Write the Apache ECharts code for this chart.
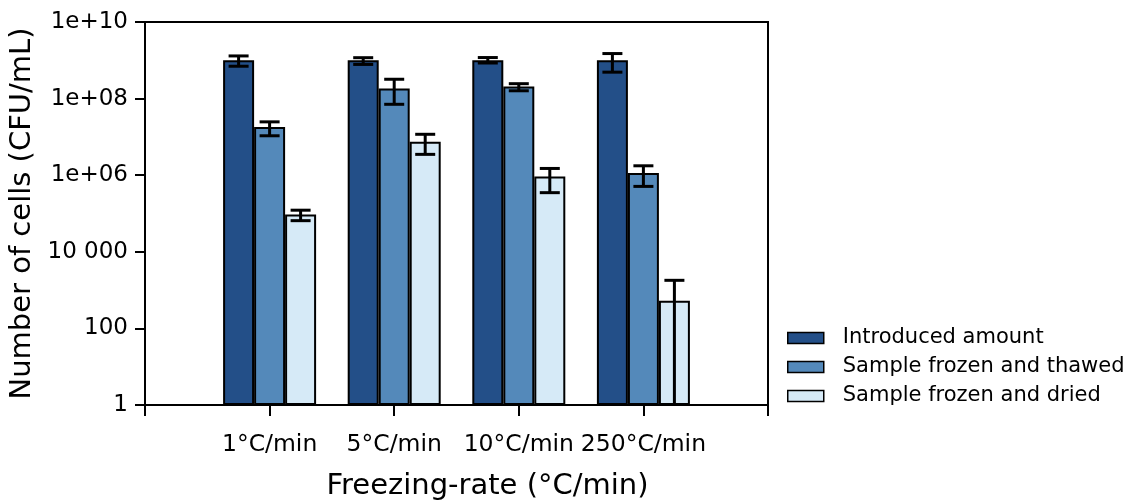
<!DOCTYPE html>
<html>
<head>
<meta charset="utf-8">
<script src="https://cdn.jsdelivr.net/npm/echarts@6/dist/echarts.min.js"></script>
<style>html,body{margin:0;padding:0;background:#fff}#c{width:1140px;height:500px}</style>
</head>
<body>
<div id="c"></div>
<script>
// ---- data ----
const categories = ['1°C/min', '5°C/min', '10°C/min', '250°C/min'];
const seriesNames = ['Introduced amount', 'Sample frozen and thawed', 'Sample frozen and dried'];
const introduced   = [1.0e9, 1.0e9, 1.0e9, 1.0e9];
const introducedLo = [7.0e8, 7.8e8, 8.5e8, 4.9e8];
const introducedHi = [1.3e9, 1.17e9, 1.18e9, 1.5e9];
const thawed   = [1.8e7, 1.83e8, 2.07e8, 1.15e6];
const thawedLo = [1.07e7, 7.1e7, 1.6e8, 5.1e5];
const thawedHi = [2.47e7, 3.2e8, 2.45e8, 1.76e6];
const dried   = [9.4e4, 7.5e6, 9.25e5, 524];
const driedLo = [6.5e4, 3.5e6, 3.5e5, 0.5];
const driedHi = [1.22e5, 1.17e7, 1.5e6, 1.8e3];
const yTickValues = [1, 100, 1e4, 1e6, 1e8, 1e10];
const yTickLabels = ['1', '100', '10 000', '1e+06', '1e+08', '1e+10'];
const colors = ['#234F88', '#5489BA', '#D6EAF7'];

// padded category axis: an empty slot on each side
const axisCats = [''].concat(categories, ['']);
const pad = arr => ['-'].concat(arr, ['-']);

const FONT = 'DejaVu Sans';
const BAR_W = 31;
const offsets = [-BAR_W, 0, BAR_W];

const values = [introduced, thawed, dried];
const los = [introducedLo, thawedLo, driedLo];
const his = [introducedHi, thawedHi, driedHi];

const series = [];
values.forEach((v, i) => {
  series.push({
    name: seriesNames[i], type: 'bar', data: pad(v), barWidth: BAR_W, barGap: '0%',
    itemStyle: { color: colors[i], borderColor: '#000', borderWidth: 2 },
    z: 2
  });
});
values.forEach((v, i) => {
  const data = v.map((_, k) => [k + 1, los[i][k], his[i][k]]);
  series.push({
    type: 'custom', name: 'err' + i, z: 5, silent: true,
    encode: { x: 0, y: [1, 2] },
    data: data,
    renderItem: function (params, api) {
      const xi = api.value(0), lo = api.value(1), hi = api.value(2);
      const cs = params.coordSys;
      const bottom = cs.y + cs.height;
      const pHi = api.coord([xi, hi]);
      const pLo = api.coord([xi, lo]);
      const x = pHi[0] + offsets[i];
      const clipped = pLo[1] > bottom;
      const yLo = Math.min(pLo[1], bottom);
      const style = { stroke: '#000', lineWidth: 3 };
      const ch = [
        { type: 'line', shape: { x1: x, y1: pHi[1], x2: x, y2: yLo }, style: style },
        { type: 'line', shape: { x1: x - 10, y1: pHi[1], x2: x + 10, y2: pHi[1] }, style: style }
      ];
      if (!clipped) ch.push({ type: 'line', shape: { x1: x - 10, y1: yLo, x2: x + 10, y2: yLo }, style: style });
      return { type: 'group', children: ch };
    }
  });
});

const chart = echarts.init(document.getElementById('c'), null, { renderer: 'canvas' });
chart.setOption({
  animation: false,
  backgroundColor: '#fff',
  textStyle: { fontFamily: FONT },
  grid: { left: 145, right: 372, top: 22, bottom: 95, outerBoundsMode: 'none', containLabel: false,
          show: true, borderColor: '#000', borderWidth: 2, backgroundColor: 'transparent' },
  legend: {
    data: seriesNames, orient: 'vertical', left: 787, top: 327, padding: 0,
    itemWidth: 36, itemHeight: 11, itemGap: 7, icon: 'rect',
    itemStyle: { borderWidth: 1.5, borderColor: '#000' },
    textStyle: { fontFamily: FONT, fontSize: 21, color: '#000', lineHeight: 22, padding: [0, 0, 0, 14] }
  },
  xAxis: {
    type: 'category', data: axisCats, boundaryGap: false,
    name: 'Freezing-rate (°C/min)', nameLocation: 'middle', nameGap: 67,
    nameTextStyle: { fontFamily: FONT, fontSize: 29, color: '#000', padding: [0, 0, 0, 62] },
    axisLine: { lineStyle: { color: '#000', width: 2 } },
    axisTick: { show: true, length: 11, lineStyle: { color: '#000', width: 2 }, interval: 0 },
    axisLabel: { fontFamily: FONT, fontSize: 23.5, color: '#000', margin: 28, interval: 0 },
    splitLine: { show: false }
  },
  yAxis: {
    type: 'log', logBase: 10, min: 1, max: 1e10, interval: 2,
    name: 'Number of cells (CFU/mL)', nameLocation: 'middle', nameGap: 104,
    nameTextStyle: { fontFamily: FONT, fontSize: 29, color: '#000' },
    axisLine: { show: true, lineStyle: { color: '#000', width: 2 } },
    axisTick: { show: true, length: 10, lineStyle: { color: '#000', width: 2 } },
    minorTick: { show: false },
    axisLabel: {
      fontFamily: FONT, fontSize: 23, color: '#000', margin: 17,
      formatter: function (val) {
        let best = 0, bd = Infinity;
        yTickValues.forEach((t, k) => { const d = Math.abs(Math.log10(t) - Math.log10(val)); if (d < bd) { bd = d; best = k; } });
        return yTickLabels[best];
      }
    },
    splitLine: { show: false }
  },
  series: series
});
</script>
</body>
</html>
